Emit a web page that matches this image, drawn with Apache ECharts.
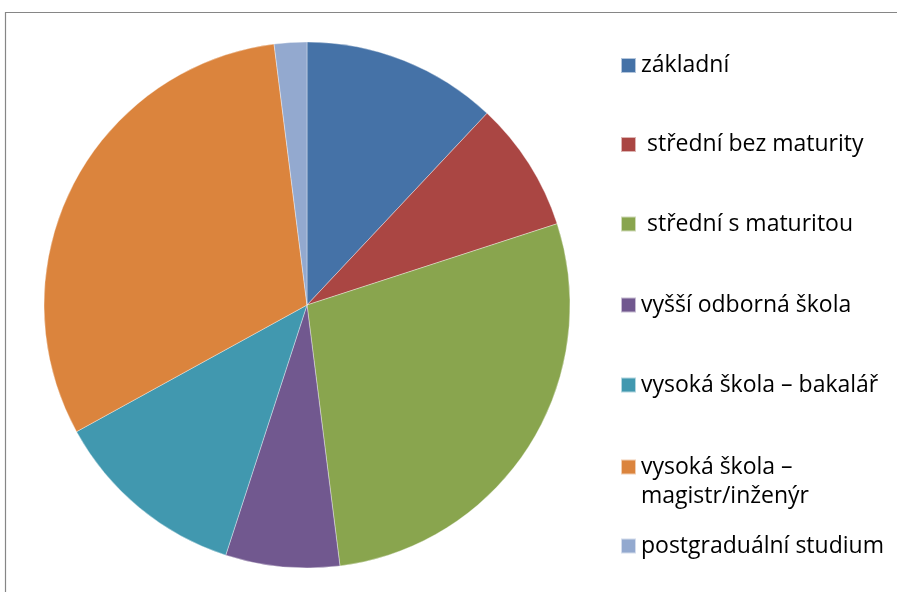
<!DOCTYPE html>
<html>
<head>
<meta charset="utf-8">
<script src="https://cdn.jsdelivr.net/npm/echarts@6/dist/echarts.min.js"></script>
<style>
  html, body { margin: 0; padding: 0; background: #fff; }
  #chart { width: 897px; height: 592px; }
</style>
</head>
<body>
<div id="chart"></div>
<script>
// Nejvyšší dosažené vzdělání – podíly v procentech
const categories = [
  'základní',
  ' střední bez maturity',
  ' střední s maturitou',
  'vyšší odborná škola',
  'vysoká škola – bakalář',
  'vysoká škola – magistr/inženýr',
  'postgraduální studium'
];
const values = [12, 8, 28, 7, 12, 31, 2];
const legendLabels = [
  'základní',
  ' střední bez maturity',
  ' střední s maturitou',
  'vyšší odborná škola',
  'vysoká škola – bakalář',
  'vysoká škola –\nmagistr/inženýr',
  'postgraduální studium'
];
const colors = ['#4572A7', '#AA4643', '#89A54E', '#71588F', '#4198AF', '#DB843D', '#93A9CF'];
// vertical centre of each legend marker
const markerCenters = [65.5, 144.5, 224, 305, 385, 467, 546];

const FONT = 'Open Sans';
const LINE_H = 29;
const BOX = 15;

const chart = echarts.init(document.getElementById('chart'), null, { renderer: 'canvas' });

const legends = categories.map((name, i) => {
  const lines = legendLabels[i].split('\n').length;
  // for wrapped labels the square sits at the top of a taller icon box,
  // so it stays level with the first text line
  const iconH = BOX + (lines - 1) * LINE_H;
  const icon = lines > 1
    ? `path://M0,0H${BOX}V${BOX}H0Z M0,${iconH}h0.01v-0.01h-0.01Z`
    : 'rect';
  return {
    data: [name],
    left: 620,
    top: markerCenters[i] - LINE_H / 2,
    padding: 0,
    orient: 'vertical',
    icon,
    itemWidth: BOX,
    itemHeight: iconH,
    itemGap: 0,
    selectedMode: false,
    formatter: () => legendLabels[i],
    textStyle: { fontFamily: FONT, fontSize: 23, color: '#000', lineHeight: LINE_H }
  };
});

chart.setOption({
  animation: false,
  color: colors,
  graphic: [{
    type: 'polyline',
    shape: { points: [[5.5, 600], [5.5, 12.5], [900, 12.5]] },
    style: { stroke: '#868686', lineWidth: 1.2, fill: null }
  }],
  legend: legends,
  series: [{
    type: 'pie',
    center: [307, 305],
    radius: [0, 263],
    startAngle: 90,
    clockwise: true,
    label: { show: false },
    labelLine: { show: false },
    itemStyle: { borderColor: 'rgba(255,255,255,0.6)', borderWidth: 0.6 },
    data: categories.map((name, i) => ({ name, value: values[i] }))
  }]
});
</script>
</body>
</html>
